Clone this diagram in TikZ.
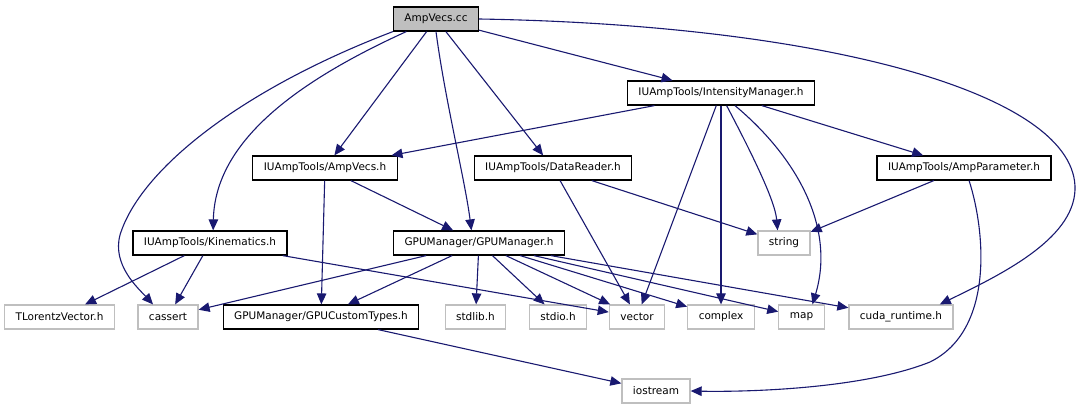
\documentclass[tikz,border=0pt]{standalone}
\usepackage{fontspec}
\setmainfont{DejaVu Sans}
\usepackage{tikz}
\usetikzlibrary{graphs, arrows.meta}
\tikzset{incfile/.style={
    rectangle,
    draw=black,
    line width=1.2pt,
    minimum height=24pt,
    inner xsep=11pt,
    font=\fontsize{10.5}{12}\selectfont
}}
\tikzset{sysfile/.style={
    incfile,
    draw=boxgrey
}}
\definecolor{edgeblue}{RGB}{25,25,112}
\definecolor{boxgrey}{RGB}{191,191,191}

\begin{document}
\begin{tikzpicture}[
    x=1pt, y=-1pt,
    >={Triangle[length=11pt,width=9.5pt]}, line width=1.1pt, edgeblue,
    text=black
]
    \useasboundingbox (0,0) rectangle (1082,411);
    % First row
    \node (A) [incfile, fill=boxgrey] at (436,19) {AmpVecs.cc};
    % Second row
    \node (B) [incfile] at (721,93) {IUAmpTools/IntensityManager.h};
    % Third row
    \node (C) [incfile] at (325,168) {IUAmpTools/AmpVecs.h};
    \node (D) [incfile] at (553,168) {IUAmpTools/DataReader.h};
    \node (E) [incfile] at (964,168) {IUAmpTools/AmpParameter.h};
    % Fourth row
    \node (F) [incfile] at (210,243) {IUAmpTools/Kinematics.h};
    \node (G) [incfile] at (479,243) {GPUManager/GPUManager.h};
    \node (H) [sysfile] at (784,243) {string};
    % Fifth row
    \node (J) [sysfile] at (59.5,317) {TLorentzVector.h};
    \node (K) [sysfile] at (168,317) {cassert};
    \node (L) [incfile] at (321,317) {GPUManager/GPUCustomTypes.h};
    \node (M) [sysfile] at (475.5,317) {stdlib.h};
    \node (N) [sysfile] at (558,317) {stdio.h};
    \node (O) [sysfile] at (637,317) {vector};
    \node (P) [sysfile] at (721,317) {complex};
    \node (Q) [sysfile] at (801.5,317) {map};
    \node (R) [sysfile] at (901,317) {cuda\textunderscore{}runtime.h};
    % Sixth row
    \node (S) [sysfile] at (656,391) {iostream};

    \graph [use existing nodes] {
        A -> {B, C, D};
        B -> {C, E, O, P};
        C -> {G, L};
        D -> {H, O};
        E -> H;
        F -> {J, K, O};
        G -> {K, L, M, N, O, P, Q, R};
        L -> S;
    };
    \draw [->] (A.south west) .. controls (240,90) and (140,170) .. (120,235)
        .. controls (112,265) and (138,288) .. (K.140);
    \draw [->] (A.203) .. controls (300,80) and (215,140) .. (F.76);
    \draw [->] (A.south) .. controls (445,100) and (465,180) .. (G.121);
    \draw [->] (A.east) .. controls (830,25) and (1078,95) .. (1075,190)
        .. controls (1073,240) and (1000,275) .. (R.18);
    \draw [->] (B.294) .. controls (750,150) and (775,200) .. (H.117);
    \draw [->] (B.318) .. controls (800,160) and (835,230) .. (Q.49);
    \draw [->] (E.292) .. controls (985,230) and (995,330) .. (930,362)
        .. controls (860,390) and (740,392) .. (S.east);
\end{tikzpicture}
\end{document}
